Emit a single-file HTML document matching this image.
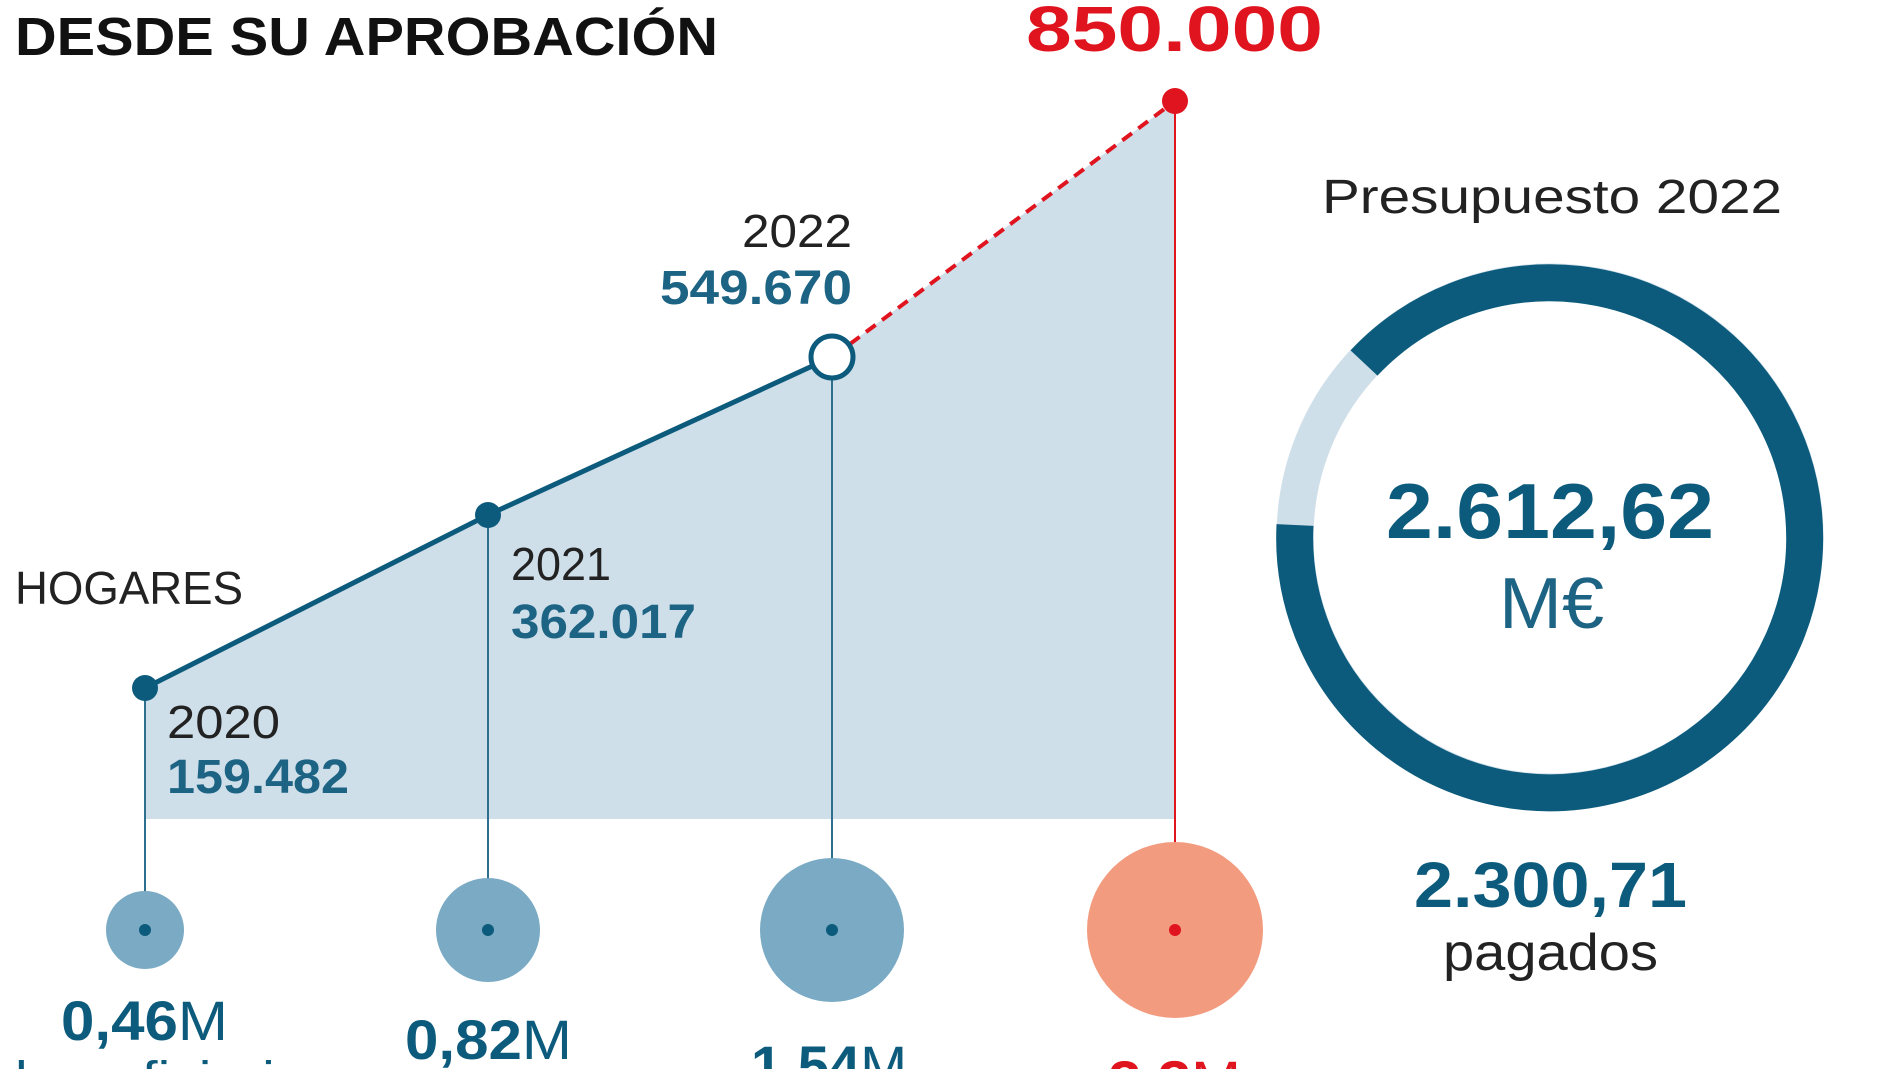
<!DOCTYPE html>
<html><head><meta charset="utf-8"><style>
html,body{margin:0;padding:0;background:#fff;width:1899px;height:1069px;overflow:hidden}
svg{display:block}
text{font-family:"Liberation Sans Narrow","Liberation Sans",sans-serif}
.b{font-weight:bold}
</style></head><body>
<svg width="1899" height="1069" viewBox="0 0 1899 1069">
<polygon points="145,688 488,515 832,357 1175,101 1175,819 145,819" fill="#cfdfea"/>
<g stroke-width="2">
<line x1="145" y1="688" x2="145" y2="930" stroke="#2e6f8f"/>
<line x1="488" y1="515" x2="488" y2="930" stroke="#2e6f8f"/>
<line x1="832" y1="357" x2="832" y2="930" stroke="#2e6f8f"/>
<line x1="1175" y1="101" x2="1175" y2="930" stroke="#e0141e"/>
</g>
<circle cx="145" cy="930" r="39" fill="#7aaac4"/>
<circle cx="488" cy="930" r="52" fill="#7aaac4"/>
<circle cx="832" cy="930" r="72" fill="#7aaac4"/>
<circle cx="1175" cy="930" r="88" fill="#f29b7f"/>
<circle cx="145" cy="930" r="6" fill="#0d5b7c"/>
<circle cx="488" cy="930" r="6" fill="#0d5b7c"/>
<circle cx="832" cy="930" r="6" fill="#0d5b7c"/>
<circle cx="1175" cy="930" r="6" fill="#e0141e"/>
<polyline points="145,688 488,515 832,357" fill="none" stroke="#0d5b7c" stroke-width="5"/>
<line x1="850" y1="344" x2="1175" y2="101" stroke="#e0141e" stroke-width="4" stroke-dasharray="12,8"/>
<circle cx="145" cy="688" r="13" fill="#0d5b7c"/>
<circle cx="488" cy="515" r="13" fill="#0d5b7c"/>
<circle cx="832" cy="357" r="21" fill="#fff" stroke="#0d5b7c" stroke-width="5"/>
<circle cx="1175" cy="101" r="13" fill="#e0141e"/>
<circle cx="1550" cy="537" r="255" fill="none" stroke="#cfdfea" stroke-width="37"/>
<path d="M1364,363 A255,255 0 1 1 1295,525" fill="none" stroke="#0d5b7c" stroke-width="37"/>
<text x="15" y="55" font-size="54" class="b" fill="#111" textLength="703" lengthAdjust="spacingAndGlyphs">DESDE SU APROBACIÓN</text>
<text x="1026" y="51" font-size="64" class="b" fill="#e0141e" textLength="297" lengthAdjust="spacingAndGlyphs">850.000</text>
<text x="15" y="604" font-size="46" fill="#222" textLength="228" lengthAdjust="spacingAndGlyphs">HOGARES</text>
<text x="167" y="738" font-size="46" fill="#222" textLength="113" lengthAdjust="spacingAndGlyphs">2020</text>
<text x="167" y="793" font-size="48" class="b" fill="#1c6384" textLength="182" lengthAdjust="spacingAndGlyphs">159.482</text>
<text x="511" y="580" font-size="46" fill="#222" textLength="100" lengthAdjust="spacingAndGlyphs">2021</text>
<text x="511" y="638" font-size="48" class="b" fill="#1c6384" textLength="185" lengthAdjust="spacingAndGlyphs">362.017</text>
<text x="742" y="247" font-size="46" fill="#222" textLength="110" lengthAdjust="spacingAndGlyphs">2022</text>
<text x="660" y="304" font-size="48" class="b" fill="#1c6384" textLength="192" lengthAdjust="spacingAndGlyphs">549.670</text>
<text x="1322" y="213" font-size="48" fill="#222" textLength="460" lengthAdjust="spacingAndGlyphs">Presupuesto 2022</text>
<text x="1386" y="538" font-size="78" class="b" fill="#0d5b7c" textLength="328" lengthAdjust="spacingAndGlyphs">2.612,62</text>
<text x="1499" y="628" font-size="72" fill="#1c6384" textLength="105" lengthAdjust="spacingAndGlyphs">M€</text>
<text x="1414" y="907" font-size="64" class="b" fill="#0d5b7c" textLength="273" lengthAdjust="spacingAndGlyphs">2.300,71</text>
<text x="1443" y="970" font-size="52" fill="#222" textLength="215" lengthAdjust="spacingAndGlyphs">pagados</text>
<text x="61" y="1040" font-size="56" fill="#0d5b7c" textLength="167" lengthAdjust="spacingAndGlyphs"><tspan class="b">0,46</tspan>M</text>
<text x="405" y="1059" font-size="56" fill="#0d5b7c" textLength="167" lengthAdjust="spacingAndGlyphs"><tspan class="b">0,82</tspan>M</text>
<text x="751" y="1085" font-size="56" fill="#0d5b7c" textLength="156" lengthAdjust="spacingAndGlyphs"><tspan class="b">1,54</tspan>M</text>
<text x="1108" y="1100" font-size="56" fill="#e0141e" textLength="133" lengthAdjust="spacingAndGlyphs"><tspan class="b">2,3</tspan>M</text>
<text x="15" y="1095" font-size="48" fill="#0d5b7c" textLength="320" lengthAdjust="spacingAndGlyphs">beneficiarios</text>
</svg>
</body></html>
